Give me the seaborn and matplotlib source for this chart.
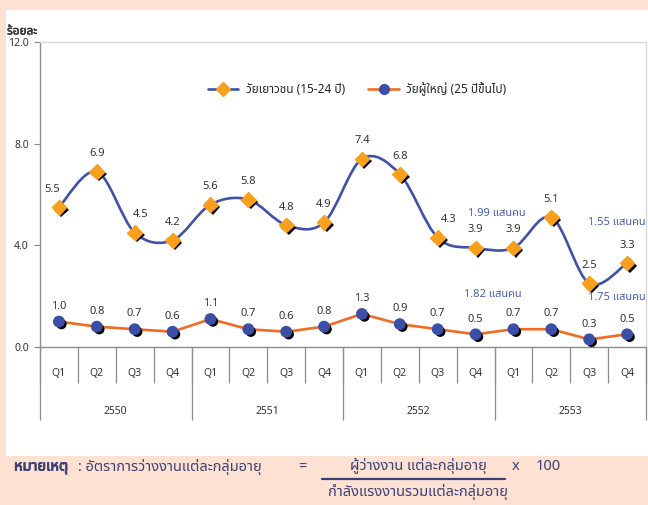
import matplotlib
matplotlib.use("Agg")
import matplotlib.pyplot as plt
import matplotlib.patheffects as pe
from matplotlib import font_manager
from matplotlib.ft2font import FT2Font
from matplotlib.lines import Line2D
from matplotlib.patches import PathPatch, Rectangle
from matplotlib.path import Path
import numpy as np
import seaborn as sns

# data
quarters = ["Q1", "Q2", "Q3", "Q4"] * 4
years = ["2550", "2551", "2552", "2553"]
youth = [5.5, 6.9, 4.5, 4.2, 5.6, 5.8, 4.8, 4.9, 7.4, 6.8, 4.3, 3.9, 3.9, 5.1, 2.5, 3.3]
adult = [1.0, 0.8, 0.7, 0.6, 1.1, 0.7, 0.6, 0.8, 1.3, 0.9, 0.7, 0.5, 0.7, 0.7, 0.3, 0.5]
series_names = ["วัยเยาวชน (15-24 ปี)", "วัยผู้ใหญ่ (25 ปีขึ้นไป)"]
yticks = [0.0, 4.0, 8.0, 12.0]
note_texts = ["1.99 แสนคน", "1.82 แสนคน", "1.55 แสนคน", "1.75 แสนคน"]

BLUE = "#3F51A8"
ORANGE = "#F26B21"
GOLD = "#F8A01C"
DOT = "#3B4FA6"
NAVY = "#4A5CB3"
TXT = "#333333"
PEACH = "#FDE2D4"


def thai_family():
    # pick an installed family that has Thai glyphs
    found = []
    for f in font_manager.fontManager.ttflist:
        try:
            if 0x0E01 in FT2Font(f.fname).get_charmap():
                found.append(f.name)
        except Exception:
            pass
    for pref in ["Tahoma", "Noto Sans Thai", "Noto Sans Thai UI", "Loma", "Garuda", "Sarabun"]:
        if pref in found:
            return pref
    return found[0] if found else "DejaVu Sans"


sns.set_style("white")
plt.rcParams["font.family"] = [thai_family(), "DejaVu Sans"]

W, H = 648, 505


def fx(x):
    return x / W


def fy(y):
    return 1 - y / H


fig = plt.figure(figsize=(W / 100, H / 100), dpi=100, facecolor=PEACH)
fig.add_artist(Rectangle((fx(6), fy(456)), fx(642), 446 / H, transform=fig.transFigure,
                         facecolor="white", edgecolor="none", zorder=0))
ax = fig.add_axes([fx(40), fy(347), fx(606), 305 / H])
ax.set_facecolor("white")

idx = np.arange(len(youth))

# youth: smoothed line (excel-style bezier through the points)
pts = np.column_stack([idx, youth]).astype(float)
ext = np.vstack([pts[0], pts, pts[-1]])
verts, codes = [pts[0]], [Path.MOVETO]
for i in range(len(pts) - 1):
    p0, p1, p2, p3 = ext[i], ext[i + 1], ext[i + 2], ext[i + 3]
    verts += [p1 + (p2 - p0) / 6, p2 - (p3 - p1) / 6, p2]
    codes += [Path.CURVE4] * 3
ax.add_patch(PathPatch(Path(verts, codes), fill=False, edgecolor=BLUE, lw=1.9, zorder=3))

# adult: straight line
sns.lineplot(x=idx, y=adult, color=ORANGE, lw=1.9, ax=ax, zorder=3)

shadow = [pe.SimplePatchShadow(offset=(1.8, -1.8), shadow_rgbFace="black", alpha=1.0), pe.Normal()]
ax.plot(idx, youth, ls="none", marker="D", ms=7.5, mfc=GOLD, mec=GOLD, zorder=4, path_effects=shadow)
ax.plot(idx, adult, ls="none", marker="o", ms=7.5, mfc=DOT, mec=DOT, zorder=4, path_effects=shadow)

# value labels
youth_dx = {0: -5, 2: 4, 10: 8}
for i, v in enumerate(youth):
    ax.annotate(f"{v:.1f}", (i, v), xytext=(youth_dx.get(i, 0), 9), textcoords="offset points",
                ha="center", va="bottom", fontsize=8, color=TXT)
for i, v in enumerate(adult):
    ax.annotate(f"{v:.1f}", (i, v), xytext=(0, 7), textcoords="offset points",
                ha="center", va="bottom", fontsize=8, color=TXT)

# blue notes (positions in data units)
note_pos = [(11.55, 5.25, "center"), (11.45, 2.08, "center"), (15.48, 4.9, "right"), (15.48, 1.93, "right")]
for t, (x, y, ha) in zip(note_texts, note_pos):
    ax.text(x, y, t, ha=ha, va="center", fontsize=8, color=NAVY, clip_on=False)

ax.set_xlim(-0.5, len(youth) - 0.5)
ax.set_ylim(0, 12)
ax.set_yticks(yticks)
ax.set_yticklabels([f"{v:.1f}" for v in yticks], fontsize=7.5, color=TXT)
ax.tick_params(axis="y", direction="out", length=4, width=0.8, color="#888888", pad=4, left=True)
ax.set_xticks([])

for side in ["top", "right"]:
    ax.spines[side].set_color("#D9D9D9")
    ax.spines[side].set_linewidth(1.0)
for side in ["left", "bottom"]:
    ax.spines[side].set_color("#8C8C8C")
    ax.spines[side].set_linewidth(1.0)

# two-level category axis
xt = ax.get_xaxis_transform()
bounds = np.arange(len(youth) + 1) - 0.5
q_len = -36 / 305
y_len = -73 / 305
ax.vlines(bounds, q_len, 0, transform=xt, colors="#8C8C8C", lw=0.9, clip_on=False)
ax.vlines(bounds[::4], y_len, 0, transform=xt, colors="#8C8C8C", lw=0.9, clip_on=False)
for i, q in enumerate(quarters):
    ax.text(i, -27 / 305, q, transform=xt, ha="center", va="center", fontsize=7.5, color=TXT)
for k, yr in enumerate(years):
    ax.text(4 * k + 1.5, -64 / 305, yr, transform=xt, ha="center", va="center", fontsize=7.5, color=TXT)

# legend
handles = [
    Line2D([], [], color=BLUE, lw=1.9, marker="D", ms=7, mfc=GOLD, mec=GOLD),
    Line2D([], [], color=ORANGE, lw=1.9, marker="o", ms=7, mfc=DOT, mec=DOT),
]
ax.legend(handles, series_names, loc="center", bbox_to_anchor=(0.523, 0.846), ncol=2,
          frameon=False, fontsize=8.5, handlelength=2.6, columnspacing=2.0, handletextpad=0.6)

# axis unit
fig.text(fx(7), fy(31), "ร้อยละ", fontsize=8.5, color=TXT, ha="left", va="center",
         path_effects=[pe.withStroke(linewidth=0.35, foreground=TXT)])

# footnote formula
NOTE = "#3A3F73"
fs = 10.5
fig.text(fx(14), fy(467), "หมายเหตุ", fontsize=fs, color=NOTE, ha="left", va="center",
         path_effects=[pe.withStroke(linewidth=0.6, foreground=NOTE)])
fig.text(fx(78), fy(467), ": อัตราการว่างงานแต่ละกลุ่มอายุ", fontsize=fs, color=NOTE, ha="left", va="center")
fig.text(fx(302), fy(467), "=", fontsize=fs, color=NOTE, ha="center", va="center")
fig.text(fx(418), fy(466), "ผู้ว่างงาน แต่ละกลุ่มอายุ", fontsize=fs, color=NOTE, ha="center", va="center")
fig.text(fx(516), fy(467), "x", fontsize=fs, color=NOTE, ha="center", va="center")
fig.text(fx(548), fy(467), "100", fontsize=fs, color=NOTE, ha="center", va="center")
fig.add_artist(Line2D([fx(322), fx(505)], [fy(479), fy(479)], transform=fig.transFigure, color=NOTE, lw=1.6))
fig.text(fx(418), fy(492), "กำลังแรงงานรวมแต่ละกลุ่มอายุ", fontsize=fs, color=NOTE, ha="center", va="center")

fig.savefig("out.png", dpi=100, facecolor=PEACH)
